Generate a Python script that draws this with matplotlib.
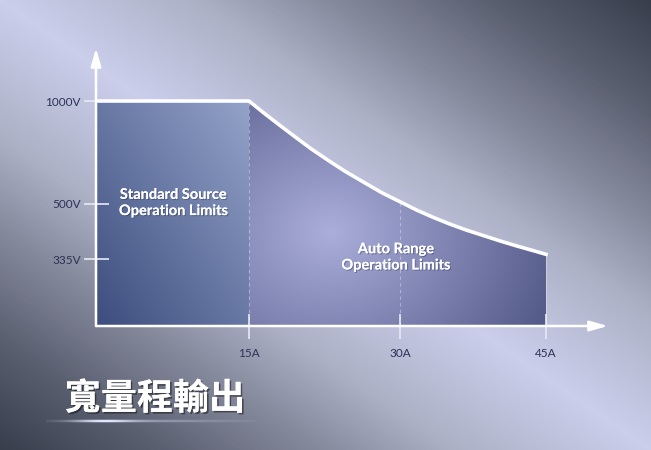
import numpy as np
import matplotlib.pyplot as plt
import matplotlib.patheffects as pe
from matplotlib.colors import LinearSegmentedColormap, to_rgb

# chart values
current = [15, 16.6, 17.9, 19.6, 21.2, 22.8, 24.5, 26.7, 28.3, 30,
           31.7, 33.4, 35.1, 36.8, 38.6, 40.3, 42.0, 43.7, 45]
voltage = [1000, 937, 888, 825, 767, 714, 660, 597, 552, 511,
           482, 460, 440, 422, 405, 389, 374, 360, 349]
std_current = [0, 15]
std_voltage = [1000, 1000]
amp_ticks = [15, 30, 45]
amp_labels = ["15A", "30A", "45A"]
volt_ticks = [335, 500, 1000]
volt_labels = ["335V", "500V", "1000V"]
title = "寬量程輸出"
std_label = "Standard Source\nOperation Limits"
auto_label = "Auto Range\nOperation Limits"

# the drawing is not to scale: value -> distance (px) along each axis
scale_v = [0, 335, 500, 1000, 1500]
scale_h = [0, 67, 122, 225, 278]
scale_a = [0, 15, 30, 45, 52]
scale_w = [0, 153, 304, 450, 512]

W, H = 651, 450
fig = plt.figure(figsize=(W / 100, H / 100), dpi=100)

# background gradient: light along the main diagonal, dark at TR/BL corners
bg = fig.add_axes([0, 0, 1, 1])
bg.set_xlim(0, W)
bg.set_ylim(H, 0)
bg.axis("off")
xx, yy = np.meshgrid(np.linspace(0, 1, W), np.linspace(0, 1, H))
d = np.abs(xx - yy)
bg_cmap = LinearSegmentedColormap.from_list(
    "bg", [(0, "#caceeb"), (0.3, "#adb1c6"), (0.5, "#878b9e"),
           (0.75, "#5b6071"), (1.0, "#393e4d")])
bg.imshow(d, cmap=bg_cmap, vmin=0, vmax=1, extent=[0, W, H, 0],
          aspect="auto", interpolation="bilinear")

ax = fig.add_axes([96 / W, 124 / H, 512 / W, 278 / H])
ax.patch.set_alpha(0)
ax.set_yscale("function", functions=(lambda v: np.interp(v, scale_v, scale_h),
                                     lambda h: np.interp(h, scale_h, scale_v)))
ax.set_xscale("function", functions=(lambda a: np.interp(a, scale_a, scale_w),
                                     lambda w: np.interp(w, scale_w, scale_a)))
ax.set_xlim(0, 52)
ax.set_ylim(0, 1500)

left_poly = ax.fill_between(std_current, std_voltage, 0, facecolor="none", lw=0)
right_poly = ax.fill_between(current, voltage, 0, facecolor="none", lw=0)

px, py = np.meshgrid(np.arange(W), np.arange(H))


def rgb_image(t, c0, c1):
    t = np.clip(t, 0, 1)[..., None]
    return (1 - t) * np.array(to_rgb(c0)) + t * np.array(to_rgb(c1))


# left region: dark bottom-left to light top-right
t_left = ((px - 96) / 153 + (326 - py) / 225) / 2
im = bg.imshow(rgb_image(t_left, "#3c4d7e", "#93a3c9"), extent=[0, W, H, 0],
               aspect="auto", interpolation="bilinear")
im.set_clip_path(left_poly.get_paths()[0], ax.transData)

# right region: radial highlight
r = np.hypot(px - 330, (py - 232) * 1.2) / 235
im = bg.imshow(rgb_image(r, "#abaedb", "#555b89"), extent=[0, W, H, 0],
               aspect="auto", interpolation="bilinear")
im.set_clip_path(right_poly.get_paths()[0], ax.transData)

# limit line
ax.plot(std_current + current[1:], std_voltage + voltage[1:],
        color="white", lw=2.6, solid_joinstyle="round", zorder=5)

# dashed guides and right edge
ax.vlines(current[0], 0, voltage[0], colors="white", alpha=0.35, lw=0.8,
          linestyles=(0, (3, 3)), zorder=3)
ax.vlines(amp_ticks[1], 0, voltage[current.index(amp_ticks[1])], colors="white",
          alpha=0.35, lw=0.8, linestyles=(0, (3, 3)), zorder=3)
ax.vlines(current[-1], 0, voltage[-1], colors="white", alpha=0.3, lw=0.8, zorder=3)

# axes with arrow heads
for s in ax.spines.values():
    s.set_visible(False)
arrow = dict(arrowstyle="-|>,head_length=0.6,head_width=0.17", color="white",
             lw=1.8, mutation_scale=18, shrinkA=0, shrinkB=0)
ax.annotate("", xy=(0, 1), xytext=(0, 0), xycoords="axes fraction", arrowprops=arrow)
ax.annotate("", xy=(1, 0), xytext=(0, 0), xycoords="axes fraction", arrowprops=arrow)

ax.set_xticks(amp_ticks, labels=amp_labels)
ax.set_yticks(volt_ticks, labels=volt_labels)
ax.minorticks_off()
ax.tick_params(direction="inout", length=18, width=1.2, color="#e8eaf4",
               labelcolor="#2c3256", labelsize=8.5)
ax.tick_params(axis="y", pad=2)
ax.tick_params(axis="x", pad=7)
for lab in ax.get_xticklabels() + ax.get_yticklabels():
    lab.set_family("Lato")

shadow = [pe.withSimplePatchShadow(offset=(0.8, -0.8), shadow_rgbFace="#1c2040",
                                   alpha=0.35), pe.Normal()]
ax.text(7.6, 505, std_label, ha="center", va="center", color="white",
        fontsize=10.5, fontweight="bold", family="Lato", linespacing=1.2,
        path_effects=shadow, zorder=6)
ax.text(29.6, 340, auto_label, ha="center", va="center", color="white",
        fontsize=10.5, fontweight="bold", family="Lato", linespacing=1.2,
        path_effects=shadow, zorder=6)

# title with glow line underneath
glow_x = np.arange(W)
glow = np.zeros((10, W, 4))
prof_x = np.exp(-((glow_x - 103) / 30.0) ** 2) * 0.9 + \
    np.exp(-((glow_x - 150) / 80.0) ** 2) * 0.4
prof_x = np.where((glow_x > 45) & (glow_x < 255), prof_x, 0)
prof_y = np.exp(-((np.arange(10) - 4.5) / 1.2) ** 2)
glow[..., :3] = to_rgb("#e6e9ff")
glow[..., 3] = np.clip(prof_y[:, None] * prof_x[None, :], 0, 1)
bg.imshow(glow, extent=[0, W, 426, 416], aspect="auto", interpolation="bilinear")

fig.text(155 / W, 1 - 399 / H, title, ha="center", va="center", color="white",
         fontsize=26, fontweight="bold", family=["Noto Sans CJK TC", "DejaVu Sans"],
         path_effects=[pe.withSimplePatchShadow(offset=(1.2, -1.2),
                                                shadow_rgbFace="black", alpha=0.45),
                       pe.Normal()])

fig.savefig("out.png", dpi=100)
